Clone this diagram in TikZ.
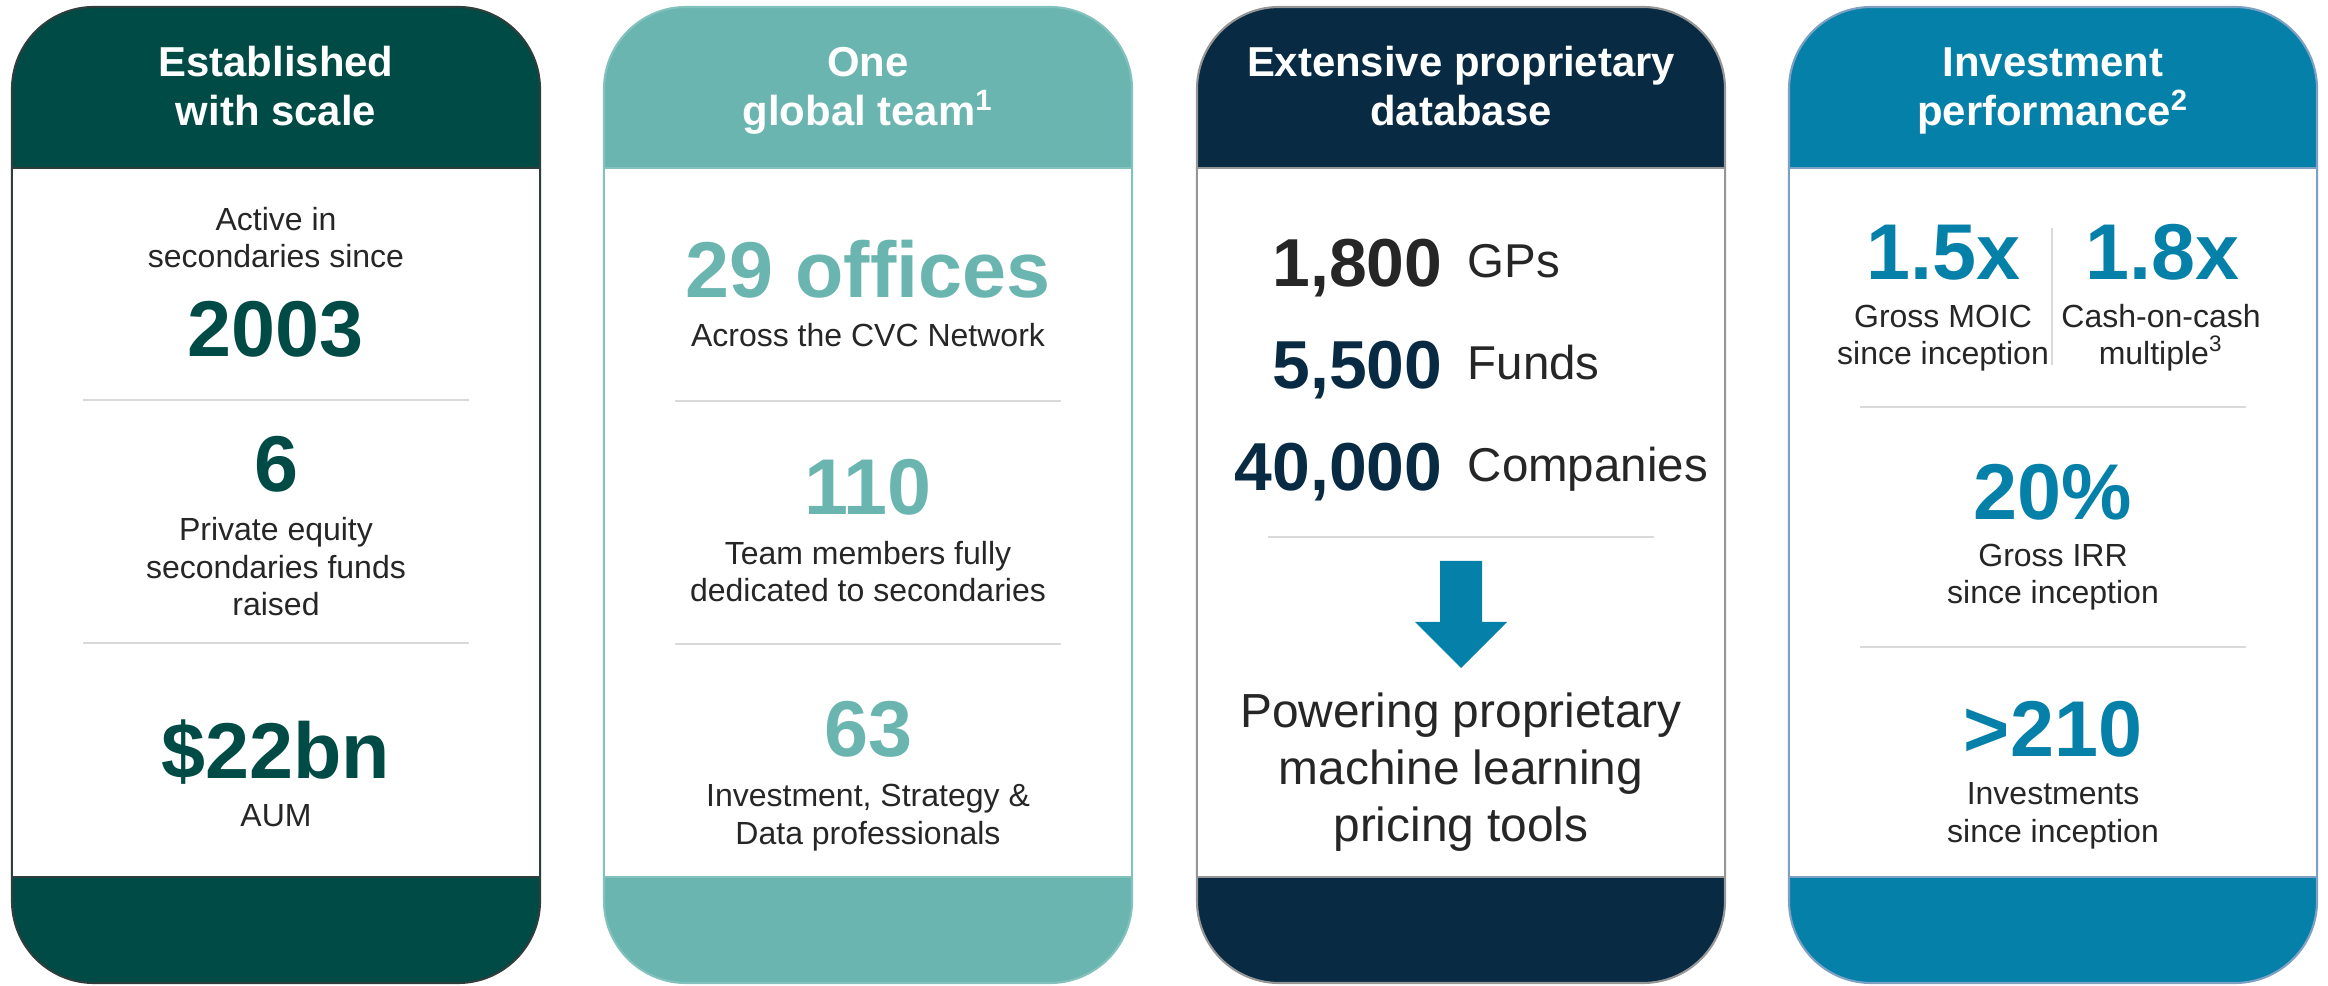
\documentclass[tikz,border=0pt]{standalone}
\usepackage{fontspec}
\setmainfont{Liberation Sans}
\usepackage{tikz}
\definecolor{Pine}{RGB}{0, 75, 69}
\definecolor{PineEdge}{RGB}{45, 62, 60}
\definecolor{Sea}{RGB}{107, 181, 176}
\definecolor{SeaEdge}{RGB}{130, 193, 188}
\definecolor{Navy}{RGB}{8, 42, 66}
\definecolor{NavyEdge}{RGB}{150, 150, 150}
\definecolor{Ocean}{RGB}{5, 128, 168}
\definecolor{OceanEdge}{RGB}{125, 160, 195}
\definecolor{Ink}{RGB}{38, 38, 38}
\definecolor{Rule}{RGB}{217, 217, 217}

\begin{document}
\begin{tikzpicture}[x=0.01cm, y=-0.01cm,
    head/.style={text=white, font=\bfseries\fontsize{11.9}{14.2}\selectfont, align=center, anchor=base, inner sep=0},
    body/.style={text=Ink, font=\fontsize{9.1}{10.8}\selectfont, align=center, anchor=base, inner sep=0},
    big/.style={font=\bfseries\fontsize{22.5}{27}\selectfont, anchor=base, inner sep=0},
    num/.style={font=\bfseries\fontsize{19.3}{23}\selectfont, anchor=base east, inner sep=0},
    word/.style={text=Ink, font=\fontsize{13.5}{16}\selectfont, anchor=base west, inner sep=0},
    power/.style={text=Ink, font=\fontsize{13.6}{16.2}\selectfont, align=center, anchor=base, inner sep=0}]
    \useasboundingbox (0,0) rectangle (2328,986);
    % cards: header and footer in colour, white body
    \foreach \l/\main/\edge in {12/Pine/PineEdge, 604/Sea/SeaEdge, 1197/Navy/NavyEdge, 1789/Ocean/OceanEdge}
    {
    \draw[\edge, line width=0.6pt, fill=\main, rounded corners=0.82cm] (\l,7) rectangle (\l+528,983);
    \draw[\edge, line width=0.6pt, fill=white] (\l,168) rectangle (\l+528,877);
    }
    % thin rules between the figures
    \foreach \c/\y in {276/400, 276/643, 868/401, 868/644, 1461/537, 2053/407, 2053/647}
    \draw[Rule, line width=0.6pt] (\c-193,\y) to (\c+193,\y);
    \draw[Rule, line width=0.6pt] (2052,228) to (2052,365);

    % (multi-line nodes sit on the baseline of their last line)
    % established with scale
    \node[head] (estab) at (276,126) {Established\\with scale};
    \node[body] (active) at (276,268) {Active in\\secondaries since};
    \node[big, text=Pine] (year) at (276,357) {2003};
    \node[big, text=Pine] (funds) at (276,492) {6};
    \node[body] (fundtxt) at (276,616) {Private equity\\secondaries funds\\raised};
    \node[big, text=Pine] (aum) at (276,778) {\$22bn};
    \node[body] (aumtxt) at (276,826) {AUM};

    % one global team
    \node[head] (team) at (868,126) {One\\global team\textsuperscript{1}};
    \node[big, text=Sea] (offices) at (868,298) {29 offices};
    \node[body] (network) at (868,347) {Across the CVC Network};
    \node[big, text=Sea] (members) at (868,515) {110};
    \node[body] (memtxt) at (868,602) {Team members fully\\dedicated to secondaries};
    \node[big, text=Sea] (pros) at (868,757) {63};
    \node[body] (protxt) at (868,844) {Investment, Strategy \&\\Data professionals};

    % proprietary database
    \node[head] (dbase) at (1461,126) {Extensive proprietary\\database};
    \node[num, text=Ink] (gpn) at (1443,287) {1,800};
    \node[word] (gpw) at (1467,278) {GPs};
    \node[num, text=Navy] (fundn) at (1443,389) {5,500};
    \node[word] (fundw) at (1467,380) {Funds};
    \node[num, text=Navy] (compn) at (1443,491) {40,000};
    \node[word] (compw) at (1467,482) {Companies};
    \fill[Ocean] (1440,561) to (1482,561) to (1482,622) to (1507,622) to (1461,668) to (1415,622) to (1440,622) to cycle;
    \node[power] (tools) at (1461,841) {Powering proprietary\\machine learning\\pricing tools};

    % investment performance
    \node[head] (perf) at (2053,126) {Investment\\performance\textsuperscript{2}};
    \node[big, text=Ocean] (moic) at (1943,280) {1.5x};
    \node[big, text=Ocean] (cash) at (2162,280) {1.8x};
    \node[body] (moictxt) at (1943,365) {Gross MOIC\\since inception};
    \node[body] (cashtxt) at (2161,365) {Cash-on-cash\\multiple\textsuperscript{3}};
    \node[big, text=Ocean] (irr) at (2053,520) {20\%};
    \node[body] (irrtxt) at (2053,604) {Gross IRR\\since inception};
    \node[big, text=Ocean] (deals) at (2053,757) {>210};
    \node[body] (dealtxt) at (2053,842) {Investments\\since inception};
\end{tikzpicture}
\end{document}
